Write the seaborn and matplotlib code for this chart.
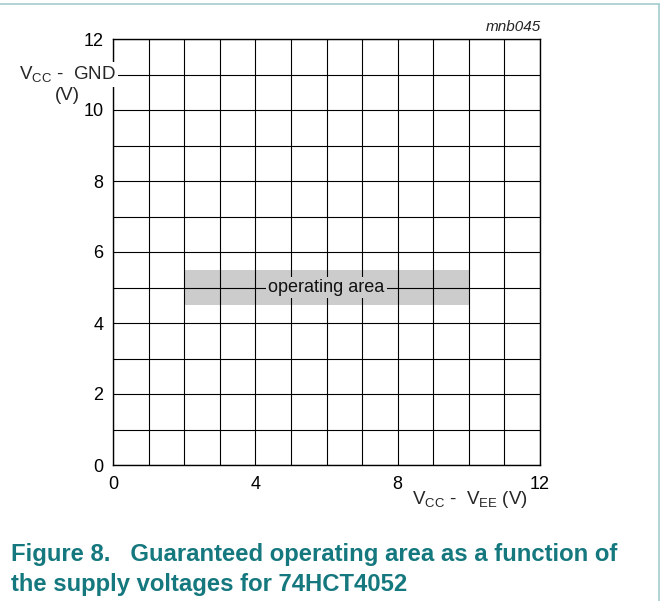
import matplotlib
matplotlib.use("Agg")
import matplotlib.pyplot as plt
import matplotlib.transforms as mtransforms
from matplotlib.lines import Line2D
import numpy as np
import seaborn as sns

# axis ranges and ticks
x_limits = [0, 12]
y_limits = [0, 12]
x_ticks = [0, 4, 8, 12]
y_ticks = [0, 2, 4, 6, 8, 10, 12]
grid_step = 1

# guaranteed operating area (Vcc - Vee from 2 to 10 V, Vcc - GND 4.5..5.5 V)
area_x = [2, 10]
area_y_low = [4.5, 4.5]
area_y_high = [5.5, 5.5]
area_label = "operating area"

caption = [
    "Figure 8.   Guaranteed operating area as a function of",
    "the supply voltages for 74HCT4052",
]
code = "mnb045"

sns.set_theme(style="white")
plt.rcParams["font.family"] = ["Liberation Sans", "DejaVu Sans"]
plt.rcParams["mathtext.fontset"] = "custom"
plt.rcParams["mathtext.rm"] = "Liberation Sans"
plt.rcParams["mathtext.it"] = "Liberation Sans:italic"
plt.rcParams["mathtext.bf"] = "Liberation Sans:bold"

teal = "#14787e"
border = "#a3cccc"
fs = 13

fig = plt.figure(figsize=(6.64, 6.01), dpi=100)
ax = fig.add_axes([113 / 664, 1 - 465 / 601, 427 / 664, 426 / 601])

# shaded area
ax.fill_between(area_x, area_y_low, area_y_high, color="#cccccc", lw=0, zorder=1)
ax.text(np.mean(area_x), np.mean([area_y_low[0], area_y_high[0]]), area_label,
        ha="center", va="center", fontsize=fs, color="#111111", zorder=4,
        bbox=dict(facecolor="#cccccc", edgecolor="none", pad=1.5))

ax.set_xlim(x_limits)
ax.set_ylim(y_limits)
ax.set_xticks(x_ticks)
ax.set_yticks(y_ticks)
ax.set_xticks(np.arange(x_limits[0], x_limits[1] + grid_step, grid_step), minor=True)
ax.set_yticks(np.arange(y_limits[0], y_limits[1] + grid_step, grid_step), minor=True)
ax.set_axisbelow(False)
ax.grid(True, which="both", color="black", lw=0.8, zorder=2)
ax.tick_params(which="both", length=0, labelsize=fs, colors="black")
ax.tick_params(axis="x", pad=8)
ax.tick_params(axis="y", pad=7)
for s in ax.spines.values():
    s.set_color("black")
    s.set_linewidth(1.0)

# axis labels
trans = mtransforms.blended_transform_factory(ax.transAxes, ax.transData)
ax.text(0.006, 11, r"V$_{\mathrm{CC}}$ -  GND", transform=trans, ha="right",
        va="center", fontsize=fs + 0.5, zorder=5, clip_on=False,
        bbox=dict(facecolor="white", edgecolor="none", pad=2))
fig.text(67 / 664, 1 - 96 / 601, "(V)", ha="center", va="center", fontsize=fs + 0.5)
fig.text(528 / 664, 1 - 499 / 601, r"V$_{\mathrm{CC}}$ -  V$_{\mathrm{EE}}$ (V)",
         ha="right", va="center", fontsize=fs + 0.5)
fig.text(541 / 664, 1 - 27 / 601, code, ha="right", va="center", fontsize=11,
         style="italic")

# caption
fig.text(11 / 664, 1 - 561 / 601, caption[0], ha="left", va="baseline",
         fontsize=17.2, fontweight="bold", color=teal)
fig.text(11 / 664, 1 - 591 / 601, caption[1], ha="left", va="baseline",
         fontsize=17.2, fontweight="bold", color=teal)

# frame of the figure box
fig.add_artist(Line2D([0, 659 / 664], [1 - 4 / 601, 1 - 4 / 601], color=border, lw=1.2,
                      transform=fig.transFigure))
fig.add_artist(Line2D([659 / 664, 659 / 664], [0, 1 - 4 / 601], color=border, lw=1.2,
                      transform=fig.transFigure))

fig.savefig("out.png", dpi=100)
